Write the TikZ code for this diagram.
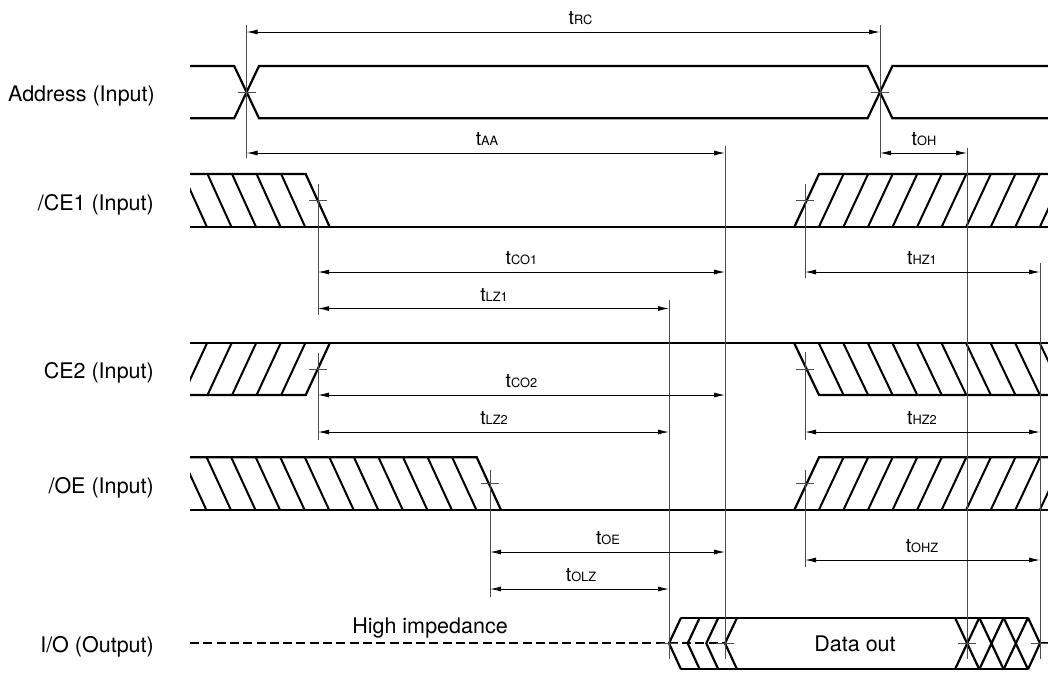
\documentclass[tikz,border=0pt]{standalone}
\usepackage{fontspec}
\setmainfont{TeX Gyre Heros}
\usetikzlibrary{arrows.meta}
\newcommand\tlab[1]{{\fontsize{19.5}{21}\selectfont t}{\fontsize{12.8}{14}\selectfont #1}}
\newcommand\refline[4]{\coordinate (#1-t) at (#2,#3); \coordinate (#1-b) at (#2,#4); \draw[vref] (#1-t) -- (#1-b);}
\newcommand\crosstick[3]{\coordinate (#1) at (#2,#3); \draw[tickln] ([xshift=-9pt]#1) -- ([xshift=9pt]#1);}
\newcommand\dimarrow[6]{%
  \coordinate (#1-a) at (#3,#2);
  \coordinate (#1-b) at (#4,#2);
  \draw[dimln] (#1-a) -- (#1-b);
  \node[tlbl] (#1-t) at (#6,{#2-7.5}) {\tlab{#5}};}
\begin{document}
\begin{tikzpicture}[x=1pt,y=-1pt,
  sig/.style={line width=2.2pt, line join=miter},
  hatchln/.style={line width=2pt},
  vref/.style={line width=0.9pt, draw=black!70},
  tickln/.style={line width=0.9pt, draw=black!70},
  dimln/.style={line width=0.9pt, {Latex[length=11pt,width=5pt]}-{Latex[length=11pt,width=5pt]}},
  lbl/.style={font=\fontsize{21.5}{25}\selectfont, inner sep=0pt},
  tlbl/.style={inner sep=0pt, anchor=base},
  dashsig/.style={line width=2.2pt, dash pattern=on 9pt off 4.3pt}]
\useasboundingbox (0,0) rectangle (1048,673);
\def\s{24.55}
% ---------------- labels
\node[lbl, anchor=base east] (lA) at (155,101.5) {Address (Input)};
\node[lbl, anchor=base east] (lC1) at (154,210) {/CE1 (Input)};
\node[lbl, anchor=base east] (lC2) at (154,378.5) {CE2 (Input)};
\node[lbl, anchor=base east] (lOE) at (154,493) {/OE (Input)};
\node[lbl, anchor=base east] (lIO) at (154,652.5) {I/O (Output)};
% ---------------- Address
\draw[sig] (190,66) -- (234.2,66) -- (259,118.3) -- (867.6,118.3) -- (892.4,66) -- (1048,66);
\draw[sig] (190,118.3) -- (234.2,118.3) -- (259,66) -- (867.6,66) -- (892.4,118.3) -- (1048,118.3);
% ---------------- /CE1
\begin{scope}
\clip (190,174) -- (305.7,174) -- (329.7,227) -- (190,227) -- cycle;
\foreach \k in {1,...,6} \draw[hatchln] ({305.7-\k*\s},174) -- ({329.7-\k*\s},227);
\end{scope}
\begin{scope}
\clip (794.3,227) -- (819,174) -- (1048,174) -- (1048,227) -- cycle;
\foreach \k in {1,...,11} \draw[hatchln] ({794.3+\k*\s},227) -- ({819+\k*\s},174);
\end{scope}
\draw[sig] (190,227) -- (1048,227);
\draw[sig] (190,174) -- (305.7,174) -- (329.7,227);
\draw[sig] (794.3,227) -- (819,174) -- (1048,174);
% ---------------- CE2
\begin{scope}
\clip (190,343.3) -- (329.7,343.3) -- (305.7,395) -- (190,395) -- cycle;
\foreach \k in {1,...,6} \draw[hatchln] ({305.7-\k*\s},395) -- ({329.7-\k*\s},343.3);
\end{scope}
\begin{scope}
\clip (794.3,343.3) -- (1048,343.3) -- (1048,395) -- (819,395) -- cycle;
\foreach \k in {1,...,11} \draw[hatchln] ({794.3+\k*\s},343.3) -- ({819+\k*\s},395);
\end{scope}
\draw[sig] (190,343.3) -- (1048,343.3);
\draw[sig] (190,395) -- (305.7,395) -- (329.7,343.3);
\draw[sig] (794.3,343.3) -- (819,395) -- (1048,395);
% ---------------- /OE
\begin{scope}
\clip (190,457.3) -- (476.7,457.3) -- (501,510) -- (190,510) -- cycle;
\foreach \k in {1,...,13} \draw[hatchln] ({476.7-\k*\s},457.3) -- ({501-\k*\s},510);
\end{scope}
\begin{scope}
\clip (794.3,510) -- (819,457.3) -- (1048,457.3) -- (1048,510) -- cycle;
\foreach \k in {1,...,11} \draw[hatchln] ({794.3+\k*\s},510) -- ({819+\k*\s},457.3);
\end{scope}
\draw[sig] (190,510) -- (1048,510);
\draw[sig] (190,457.3) -- (476.7,457.3) -- (501,510);
\draw[sig] (794.3,510) -- (819,457.3) -- (1048,457.3);
% ---------------- I/O
\draw[dashsig] (190,643.3) -- (726,643.3);
\foreach \v in {669,687.7,706.3,725} \draw[sig] ({\v+12},617.7) -- (\v,643.3) -- ({\v+12},669.3);
\draw[sig] (681,617.7) -- (1028,617.7);
\draw[sig] (681,669.3) -- (1028,669.3);
\draw[sig] (955,617.7) -- (979.3,669.3) (955,669.3) -- (979.3,617.7);
\draw[sig] (979.3,617.7) -- (1003.6,669.3) (979.3,669.3) -- (1003.6,617.7);
\draw[sig] (1003.6,617.7) -- (1028,669.3) (1003.6,669.3) -- (1028,617.7);
\draw[sig] (1028,617.7) -- (1040,643.3) -- (1028,669.3);
\draw[sig] (1040,643.3) -- (1048,643.3);
\node[lbl, anchor=base] (hz) at (430,633.3) {High impedance};
\node[lbl, anchor=base] (dout) at (855,651.7) {Data out};
% ---------------- reference lines
\refline{v1}{246.6}{25}{158}
\refline{v2}{880}{25}{158}
\refline{v3}{725}{145.5}{659}
\refline{v4}{967}{148}{659}
\refline{v5}{318}{184}{315}
\refline{v6}{318}{352.5}{440}
\refline{v7}{490}{470}{597}
\refline{v8}{669}{300}{659}
\refline{v9}{805}{184}{278}
\refline{v10}{805}{352}{440}
\refline{v11}{805}{470}{567}
\refline{v12}{1040}{263}{659}
% ---------------- cross ticks
\crosstick{x1}{246.6}{92.2}
\crosstick{x2}{880}{92.2}
\crosstick{x3}{318}{200.5}
\crosstick{x4}{805}{200.5}
\crosstick{x5}{318}{369}
\crosstick{x6}{805}{369}
\crosstick{x7}{490}{483.7}
\crosstick{x8}{805}{483.7}
\crosstick{x9}{669}{643.3}
\crosstick{x10}{725}{643.3}
\crosstick{x11}{967}{643.3}
\crosstick{x12}{1040}{643.3}
% ---------------- dimension arrows
\dimarrow{rc}{32}{246.6}{880}{RC}{580.5}
\dimarrow{aa}{153}{246.6}{725}{AA}{487}
\dimarrow{oh}{153}{880}{967}{OH}{924}
\dimarrow{co1}{272}{318}{725}{CO1}{521.5}
\dimarrow{lz1}{308.5}{318}{669}{LZ1}{494}
\dimarrow{hz1}{272}{805}{1040}{HZ1}{922}
\dimarrow{co2}{395}{318}{725}{CO2}{521.5}
\dimarrow{lz2}{432}{318}{669}{LZ2}{494}
\dimarrow{hz2}{432}{805}{1040}{HZ2}{922}
\dimarrow{oe}{552}{490}{725}{OE}{608}
\dimarrow{olz}{589}{490}{669}{OLZ}{581}
\dimarrow{ohz}{560}{805}{1040}{OHZ}{922}
\end{tikzpicture}
\end{document}
